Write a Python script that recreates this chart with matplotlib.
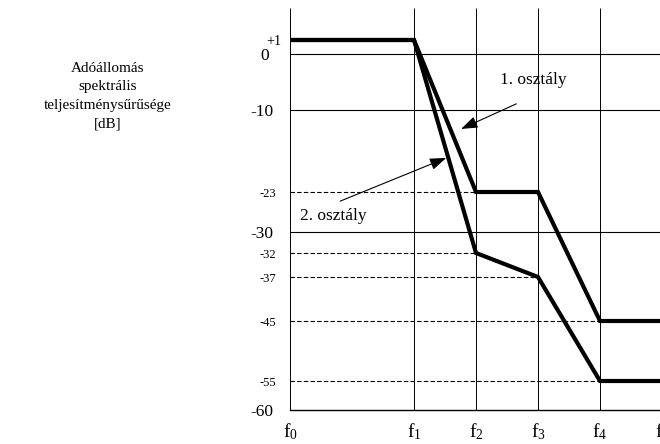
import matplotlib
matplotlib.use("Agg")
import matplotlib.pyplot as plt
import numpy as np

plt.rcParams['font.family'] = ['Liberation Serif', 'DejaVu Serif']
plt.rcParams['mathtext.fontset'] = 'custom'
plt.rcParams['mathtext.rm'] = 'Liberation Serif'
plt.rcParams['mathtext.it'] = 'Liberation Serif:italic'

# ---- data ----
freq_labels = ['f_0', 'f_1', 'f_2', 'f_3', 'f_4', 'f_5']
freq_pos = [0, 2, 3, 4, 5, 6]
class1 = [1, 1, -23, -23, -45, -45]   # 1. osztály
class2 = [1, 1, -32, -37, -55, -55]   # 2. osztály
solid_levels = [0, -10, -30]
dashed_levels = [-23, -32, -37, -45, -55]
big_ticks = [0, -10, -30, -60]
small_ticks = [-23, -32, -37, -45, -55]
ylabel_lines = ['Adóállomás', 'spektrális', 'teljesítménysűrűsége', '[dB]']

# schematic (non-uniform) vertical scale of the original drawing
scale_vals = np.array([-60, -55, -45, -37, -32, -30, -23, -10, 0, 1, 3], float)
scale_pix = np.array([410, 381, 321, 277, 253, 232, 192, 110, 54, 40, 8], float)

def fwd(v):
    return np.interp(v, scale_vals, -scale_pix)

def inv(u):
    return np.interp(u, -scale_pix, scale_vals)

fig = plt.figure(figsize=(6.6, 4.44), dpi=100)
ax = fig.add_axes([290 / 660, 34 / 444, 372 / 660, 402 / 444])
ax.set_yscale('function', functions=(fwd, inv))
ax.set_xlim(0, 6)
ax.set_ylim(-60, 3)

# grid
ax.vlines(freq_pos, -60, 3, color='black', lw=0.7)
ax.hlines(solid_levels, 0, 6, color='black', lw=0.8)
for L in dashed_levels:
    xs = [x for x, a, b in zip(freq_pos, class1, class2) if a == L or b == L]
    ax.hlines(L, 0, min(xs), color='black', lw=0.8, linestyles=(0, (4, 2)))

# curves
ax.plot(freq_pos, class1, color='black', lw=3, solid_joinstyle='miter')
ax.plot(freq_pos, class2, color='black', lw=3, solid_joinstyle='miter')

for s in ['top', 'right', 'left']:
    ax.spines[s].set_visible(False)
ax.spines['bottom'].set_linewidth(1.0)

# y ticks
yt = [1] + big_ticks + small_ticks
ylab = ['+1'] + [str(v) for v in big_ticks] + [str(v) for v in small_ticks]
ax.set_yticks(yt)
ax.set_yticklabels(ylab)
ax.yaxis.set_minor_locator(matplotlib.ticker.NullLocator())
ax.tick_params(axis='y', length=0)
for t, v in zip(ax.yaxis.get_major_ticks(), yt):
    if v == 1:
        t.label1.set_fontsize(10)
        t.set_pad(6.5)
    elif v == 0:
        t.label1.set_fontsize(12.5)
        t.set_pad(15)
    elif v in big_ticks:
        t.label1.set_fontsize(12.5)
        t.set_pad(12)
    else:
        t.label1.set_fontsize(9)
        t.set_pad(10)

# x ticks
ax.set_xticks(freq_pos)
ax.set_xticklabels([r'$\mathregular{%s}$' % s for s in freq_labels], fontsize=14)
ax.tick_params(axis='x', length=0, pad=8)

# annotations
arrow = dict(arrowstyle='-|>,head_length=0.5,head_width=0.18', color='black',
             lw=0.8, mutation_scale=20, shrinkA=0, shrinkB=0)
ax.annotate('', xy=(2.76, -13.0), xytext=(3.65, -8.9), arrowprops=arrow)
ax.annotate('', xy=(2.52, -17.6), xytext=(0.81, -24.6), arrowprops=arrow)
ax.text(3.93, -4.6, '1. osztály', ha='center', va='center', fontsize=12.5)
ax.text(0.16, -27.2, '2. osztály', ha='left', va='center', fontsize=12.5)

fig.text(108 / 660, 1 - 96 / 444, '\n'.join(ylabel_lines), ha='center',
         va='center', fontsize=11, linespacing=1.55)

fig.savefig('out.png', dpi=100)
